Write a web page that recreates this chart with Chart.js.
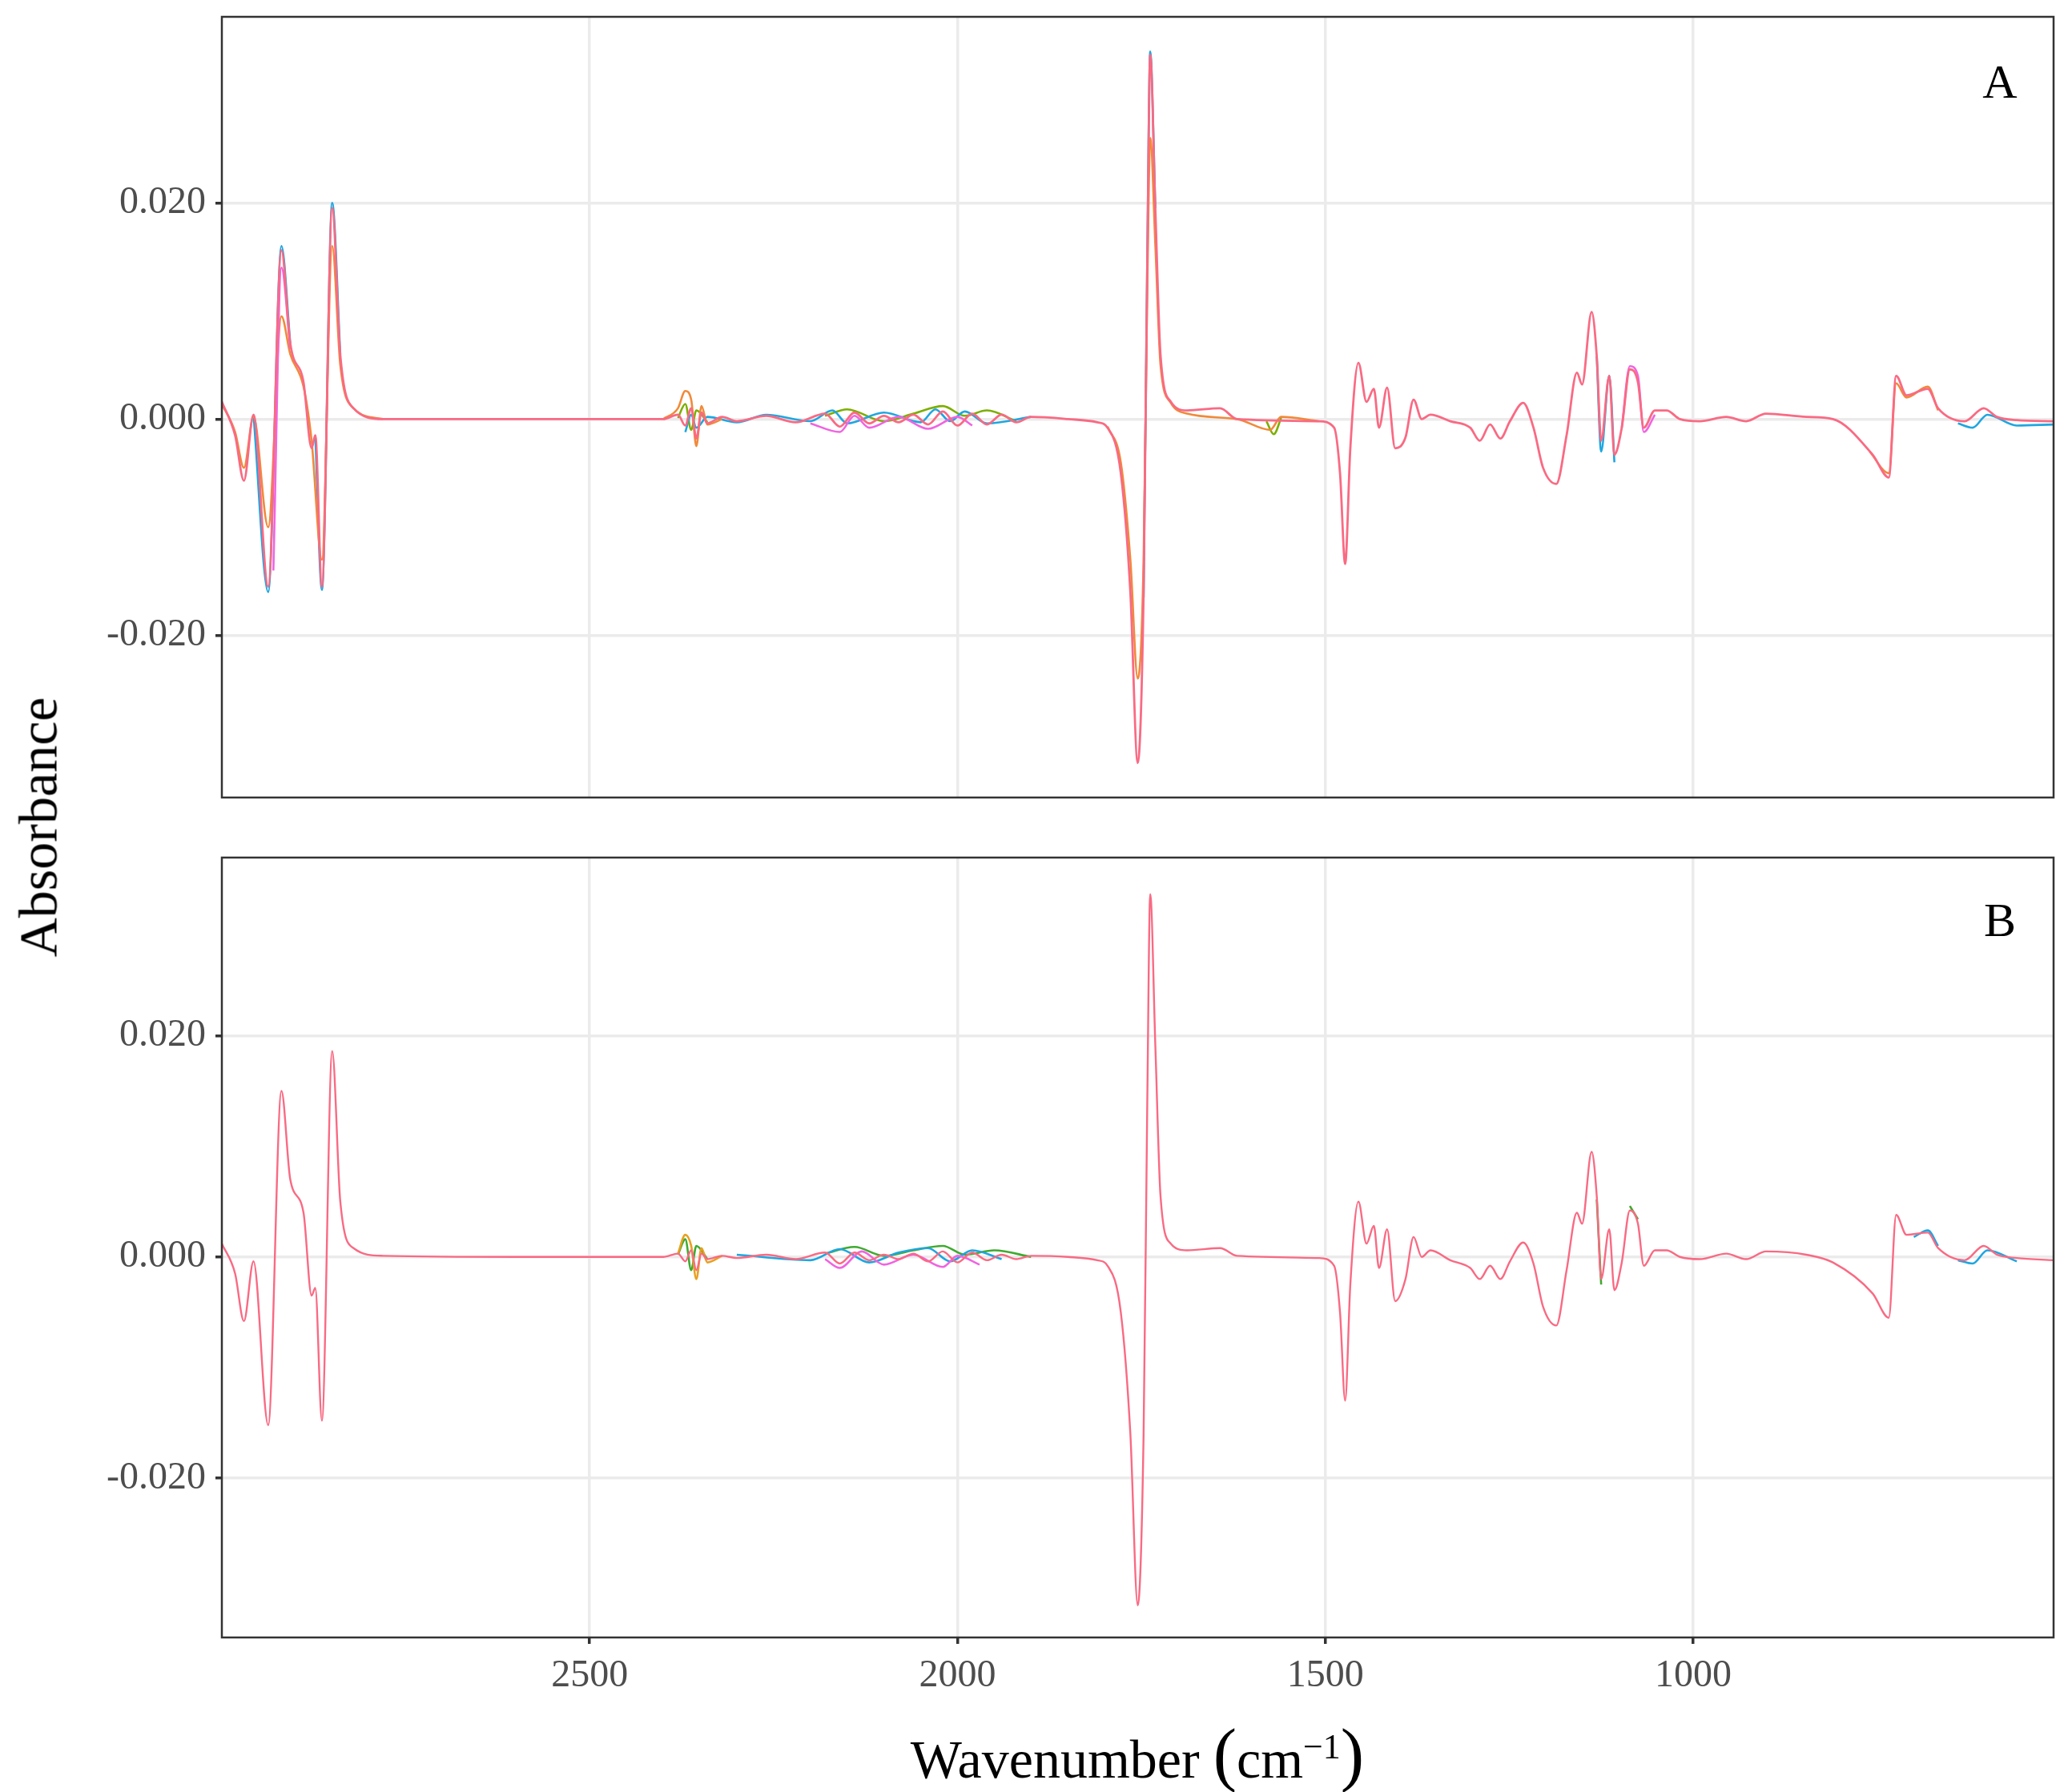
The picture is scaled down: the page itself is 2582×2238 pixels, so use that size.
<!DOCTYPE html>
<html><head><meta charset="utf-8">
<script src="https://cdn.jsdelivr.net/npm/chart.js@4/dist/chart.umd.min.js"></script>
<style>
html,body{margin:0;padding:0;background:#fff;}
#wrap{position:relative;width:2582px;height:2238px;font-family:"Liberation Serif","DejaVu Serif",serif;}
canvas{position:absolute;left:0;}
.lab{position:absolute;color:#000;white-space:nowrap;}
</style></head><body>
<div id="wrap">
<canvas id="ca" width="2582" height="1040" style="top:0"></canvas>
<canvas id="cb" width="2582" height="1198" style="top:1040px"></canvas>
<div class="lab" style="left:2497px;top:102px;transform:translate(-50%,-50%);font-size:60px">A</div>
<div class="lab" style="left:2497px;top:1149px;transform:translate(-50%,-50%);font-size:60px">B</div>
<div class="lab" style="left:48px;top:1033px;transform:translate(-50%,-50%) rotate(-90deg);font-size:68px">Absorbance</div>
<div class="lab" style="left:1420px;top:2190px;transform:translate(-50%,-50%);font-size:68px">Wavenumber <span style="font-size:88px">(</span>cm<sup style="font-size:44px">−1</sup><span style="font-size:88px">)</span></div>
</div>
<script>
const WN=[3000,2982,2970,2957,2937,2919,2907,2889,2878,2873,2864,2850,2839,2821,2781,2600,2400,2380,2370,2362,2355,2348,2340,2320,2300,2260,2220,2180,2160,2140,2120,2100,2080,2060,2040,2020,2000,1980,1960,1940,1920,1900,1850,1810,1796,1778,1765,1755,1747,1742,1738,1731,1724,1710,1688,1643,1620,1509,1488,1480,1473,1466,1455,1444,1434,1427,1416,1405,1391,1380,1369,1357,1330,1303,1290,1276,1262,1249,1231,1217,1204,1186,1172,1158,1151,1138,1131,1125,1114,1107,1097,1086,1075,1067,1052,1036,1018,991,955,928,901,846,810,756,734,724,710,681,667,631,605,587,560,510];
const ABS_A=[0.0016,-0.0015,-0.0057,0.0004,-0.0155,0.0156,0.0070,0.0034,-0.0027,-0.0015,-0.0155,0.0195,0.0059,0.0010,0.0000,0.0000,0.0000,0.0004,-0.0006,0.0010,-0.0018,0.0006,-0.0004,0.0002,-0.0002,0.0003,-0.0003,0.0005,-0.0007,0.0006,-0.0004,0.0003,-0.0003,0.0004,-0.0005,0.0007,-0.0006,0.0005,-0.0005,0.0004,-0.0003,0.0002,0.0000,-0.0003,-0.0008,-0.0050,-0.0160,-0.0318,-0.0160,0.0144,0.0337,0.0193,0.0059,0.0016,0.0008,0.0010,0.0000,-0.0002,-0.0008,-0.0050,-0.0134,-0.0027,0.0052,0.0016,0.0028,-0.0008,0.0029,-0.0027,-0.0017,0.0018,0.0000,0.0004,-0.0002,-0.0008,-0.0020,-0.0005,-0.0018,-0.0002,0.0015,-0.0008,-0.0045,-0.0060,-0.0015,0.0043,0.0032,0.0099,0.0058,-0.0020,0.0040,-0.0033,-0.0008,0.0046,0.0034,-0.0008,0.0008,0.0008,0.0000,-0.0002,0.0002,-0.0002,0.0005,0.0002,0.0000,-0.0033,-0.0054,0.0040,0.0022,0.0028,0.0010,-0.0002,0.0010,0.0002,-0.0001,-0.0002];
const ABS_B=[0.0012,-0.0015,-0.0058,-0.0004,-0.0152,0.0150,0.0070,0.0040,-0.0035,-0.0028,-0.0148,0.0186,0.0050,0.0008,0.0001,0.0000,0.0000,0.0003,-0.0004,0.0006,-0.0012,0.0003,-0.0002,0.0001,-0.0001,0.0002,-0.0002,0.0004,-0.0006,0.0004,-0.0003,0.0002,-0.0002,0.0003,-0.0004,0.0005,-0.0005,0.0004,-0.0003,0.0002,-0.0002,0.0001,0.0000,-0.0003,-0.0008,-0.0050,-0.0160,-0.0315,-0.0160,0.0140,0.0328,0.0190,0.0055,0.0012,0.0006,0.0008,0.0001,-0.0001,-0.0008,-0.0050,-0.0130,-0.0025,0.0050,0.0012,0.0028,-0.0010,0.0025,-0.0040,-0.0020,0.0018,0.0000,0.0006,-0.0003,-0.0010,-0.0020,-0.0008,-0.0020,-0.0004,0.0013,-0.0006,-0.0045,-0.0062,-0.0012,0.0040,0.0030,0.0095,0.0055,-0.0020,0.0025,-0.0030,-0.0005,0.0042,0.0030,-0.0008,0.0006,0.0006,0.0000,-0.0002,0.0003,-0.0002,0.0005,0.0002,-0.0005,-0.0033,-0.0055,0.0038,0.0020,0.0022,0.0008,-0.0003,0.0010,0.0002,-0.0001,-0.0003];
// variant spectra (wavenumber, absorbance), null = gap
const A_ORANGE=[[3000,0.0014],[2982,-0.0012],[2970,-0.0045],[2957,0.0002],[2937,-0.0100],[2919,0.0095],[2907,0.0060],[2889,0.0030],[2878,-0.0020],[2864,-0.0130],[2850,0.0160],[2839,0.0050],[2821,0.0010],[2781,0.0000],null,[2400,0.0000],[2380,0.0010],[2370,0.0026],[2362,0.0018],[2355,-0.0025],[2348,0.0012],[2340,-0.0005],[2320,0.0000],null,[1796,-0.0007],[1778,-0.0040],[1765,-0.0130],[1755,-0.0240],[1747,-0.0130],[1742,0.0120],[1738,0.0260],[1731,0.0160],[1724,0.0050],[1710,0.0015],[1688,0.0005],[1620,0.0000],[1575,-0.0010],[1560,0.0002],[1509,-0.0002],null,[760,-0.0030],[734,-0.0050],[724,0.0033],[710,0.0020],[681,0.0030],[667,0.0008]];
const A_BLUE=[[2957,0.0004],[2937,-0.0160],[2919,0.0160],[2907,0.0070],null,[2873,-0.0015],[2864,-0.0158],[2850,0.0200],[2839,0.0060],null,[2370,-0.0012],[2362,0.0004],[2355,-0.0008],[2340,0.0002],[2300,-0.0003],[2260,0.0004],[2200,-0.0002],[2170,0.0008],[2150,-0.0004],[2100,0.0006],[2050,-0.0003],[2030,0.0009],[2010,-0.0002],[1990,0.0007],[1960,-0.0004],[1900,0.0002],null,[1747,-0.0165],[1742,0.0150],[1738,0.0340],[1731,0.0195],null,[1131,0.0058],[1125,-0.0030],[1114,0.0040],[1107,-0.0040],null,[640,-0.0004],[620,-0.0008],[600,0.0004],[560,-0.0006],[510,-0.0005]];
const A_MAGENTA=[[2930,-0.0140],[2919,0.0140],[2907,0.0065],null,[2200,-0.0004],[2160,-0.0012],[2140,0.0003],[2120,-0.0008],[2080,0.0002],[2040,-0.0009],[2000,0.0002],[1980,-0.0006],null,[1097,-0.0008],[1086,0.0049],[1075,0.0040],[1067,-0.0012],[1052,0.0004]];
const A_GREEN=[[2380,0.0001],[2370,0.0014],[2362,-0.0010],[2355,0.0008],[2340,-0.0003],null,[2180,0.0003],[2150,0.0009],[2100,-0.0002],[2060,0.0005],[2020,0.0012],[1990,0.0003],[1960,0.0008],[1920,-0.0002],null,[1580,-0.0002],[1570,-0.0014],[1560,0.0001]];
const B_GREEN=[[2380,0.0002],[2370,0.0016],[2362,-0.0012],[2355,0.0010],[2340,-0.0002],null,[2180,0.0003],[2140,0.0009],[2100,0.0001],[2060,0.0006],[2020,0.0010],[1990,0.0002],[1950,0.0006],[1900,0.0000],null,[1131,0.0052],[1125,-0.0025],null,[1086,0.0046],[1075,0.0034]];
const B_ORANGE=[[2380,0.0003],[2370,0.0020],[2362,0.0010],[2355,-0.0020],[2348,0.0008],[2340,-0.0005],[2320,0.0001]];
const B_BLUE=[[2300,0.0002],[2200,-0.0003],[2160,0.0007],[2120,-0.0005],[2080,0.0004],[2040,0.0008],[2010,-0.0004],[1980,0.0006],[1940,-0.0002],null,[700,0.0018],[681,0.0024],[667,0.0010],null,[640,-0.0003],[620,-0.0006],[600,0.0006],[560,-0.0004]];
const B_MAGENTA=[[2180,-0.0002],[2160,-0.0010],[2130,0.0005],[2100,-0.0007],[2060,0.0002],[2020,-0.0009],[2000,0.0001],[1970,-0.0007]];
const X_TICKS=[2500,2000,1500,1000];
const Y_TICKS=[-0.02,0,0.02];

const pts=(ys)=>WN.map((w,i)=>({x:w,y:ys[i]}));
const vpts=(arr)=>arr.map(p=>p?{x:p[0],y:p[1]}:{x:NaN,y:null});
const ds=(data,color,order,w)=>({data,borderColor:color,borderWidth:w||2.6,pointRadius:0,fill:false,cubicInterpolationMode:'monotone',order,spanGaps:false});
const boxPlugin={id:'box',afterDraw(c){const a=c.chartArea,x=c.ctx;x.save();x.strokeStyle='#333';x.lineWidth=2.5;x.strokeRect(a.left,a.top,a.right-a.left,a.bottom-a.top);x.restore();}};
function make(id,datasets,yMin,yMax,padTop,padBottom,showX){
 return new Chart(document.getElementById(id),{type:'line',data:{datasets},plugins:[boxPlugin],
 options:{responsive:false,animation:false,
  layout:{padding:{top:padTop,right:18,bottom:padBottom,left:0}},
  plugins:{legend:{display:false},tooltip:{enabled:false}},
  scales:{
   x:{type:'linear',reverse:true,min:510,max:3000,
     afterBuildTicks:s=>{s.ticks=X_TICKS.map(v=>({value:v}));},
     afterFit:s=>{s.height=showX?193:0;s.paddingLeft=0;s.paddingRight=0;},
     grid:{color:'#ebebeb',lineWidth:3.5,tickColor:'#333',tickLength:showX?8:0,drawTicks:showX},
     border:{display:false},
     ticks:{display:showX,color:'#4d4d4d',font:{family:'Liberation Serif',size:48},padding:12,maxRotation:0,callback:v=>String(v)}},
   y:{type:'linear',min:yMin,max:yMax,
     afterBuildTicks:s=>{s.ticks=Y_TICKS.map(v=>({value:v}));},
     afterFit:s=>{s.width=277;s.paddingTop=0;s.paddingBottom=0;},
     grid:{color:'#ebebeb',lineWidth:3.5,tickColor:'#333',tickLength:8},
     border:{display:false},
     ticks:{color:'#4d4d4d',font:{family:'Liberation Serif',size:48},padding:12,callback:v=>v.toFixed(3)}}
  }}});
}
make('ca',[
 ds(pts(ABS_A),'#F96A83',0,2.8),
 ds(vpts(A_BLUE),'#1FA6E0',3),
 ds(vpts(A_ORANGE),'#F08A3A',2),
 ds(vpts(A_GREEN),'#7CAE00',4),
 ds(vpts(A_MAGENTA),'#F064E0',1)
],-0.035,0.0372,21,44,false);
make('cb',[
 ds(pts(ABS_B),'#F96A83',0,2.4),
 ds(vpts(B_BLUE),'#1FA6E0',3),
 ds(vpts(B_GREEN),'#3FAA30',4),
 ds(vpts(B_ORANGE),'#E8A020',2),
 ds(vpts(B_MAGENTA),'#F064E0',1)
],-0.0344,0.0361,31,0,true);
</script>
</body></html>
